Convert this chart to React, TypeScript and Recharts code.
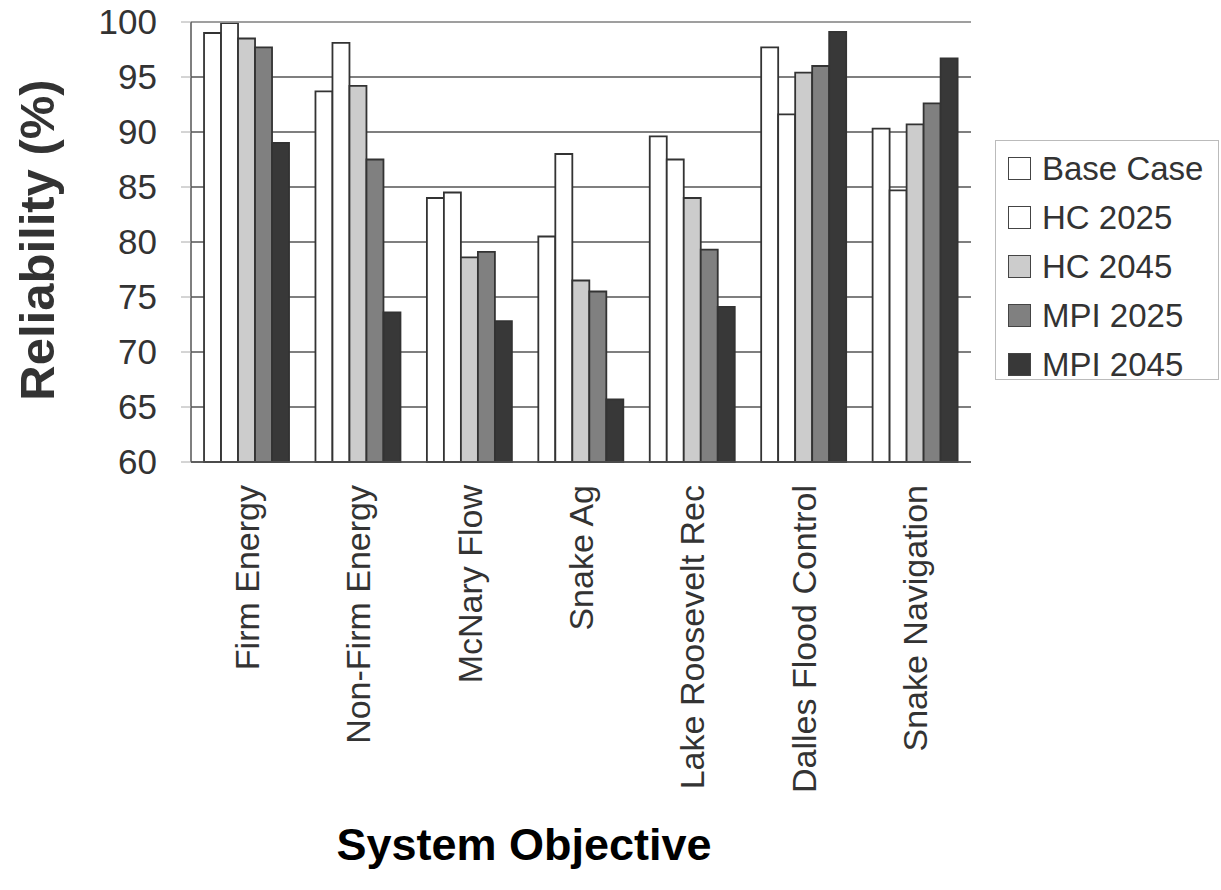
import React from 'react';
import { BarChart, Bar, XAxis, YAxis, CartesianGrid, Label, ReferenceLine } from 'recharts';

const categories = [
  'Firm Energy',
  'Non-Firm Energy',
  'McNary Flow',
  'Snake Ag',
  'Lake Roosevelt Rec',
  'Dalles Flood Control',
  'Snake Navigation',
];

const baseCase = [99.0, 93.7, 84.0, 80.5, 89.6, 97.7, 90.3];
const hc2025 = [99.9, 98.1, 84.5, 88.0, 87.5, 91.6, 84.7];
const hc2045 = [98.5, 94.2, 78.6, 76.5, 84.0, 95.4, 90.7];
const mpi2025 = [97.7, 87.5, 79.1, 75.5, 79.3, 96.0, 92.6];
const mpi2045 = [89.0, 73.6, 72.8, 65.7, 74.1, 99.1, 96.7];

const yTicks = [60, 65, 70, 75, 80, 85, 90, 95, 100];

const series = [
  { key: 'base', name: 'Base Case', fill: '#ffffff' },
  { key: 'hc25', name: 'HC 2025', fill: '#ffffff' },
  { key: 'hc45', name: 'HC 2045', fill: '#cccccc' },
  { key: 'mpi25', name: 'MPI 2025', fill: '#808080' },
  { key: 'mpi45', name: 'MPI 2045', fill: '#383838' },
];

const data = categories.map((name, i) => ({
  name,
  base: baseCase[i],
  hc25: hc2025[i],
  hc45: hc2045[i],
  mpi25: mpi2025[i],
  mpi45: mpi2045[i],
}));

const FONT = '"Liberation Sans", Arial, Helvetica, sans-serif';

const XTick = (props: any) => {
  const { x, y, payload } = props;
  return (
    <text
      x={x}
      y={y}
      transform={`rotate(-90, ${x}, ${y})`}
      textAnchor="end"
      dominantBaseline="central"
      fontSize={34}
      fontFamily={FONT}
      fill="#333"
    >
      {payload.value}
    </text>
  );
};

// plain html legend, placed to the right of the plot
const LegendBox = () => (
  <div
    style={{
      position: 'absolute',
      left: 995,
      top: 140,
      border: '1px solid #bbb',
      boxSizing: 'border-box',
      width: 224,
      height: 240,
      padding: '3px 0 0 12px',
      fontFamily: FONT,
      fontSize: 33,
      color: '#333',
      background: '#fff',
    }}
  >
    {series.map((s) => (
      <div key={s.key} style={{ display: 'flex', alignItems: 'center', height: 49 }}>
        <span
          style={{
            display: 'inline-block',
            width: 21,
            height: 21,
            border: '1.5px solid #444',
            background: s.fill,
            marginRight: 11,
            flexShrink: 0,
          }}
        />
        <span style={{ whiteSpace: 'nowrap' }}>{s.name}</span>
      </div>
    ))}
  </div>
);

export default function App() {
  return (
    <div style={{ position: 'absolute', left: 0, top: 0, width: 1221, height: 890, background: '#fff' }}>
      <BarChart
        width={1221}
        height={890}
        data={data}
        margin={{ top: 22, right: 250, bottom: 398, left: 121 }}
        barCategoryGap="11.7%"
        barGap={0}
      >
        <CartesianGrid horizontal vertical={false} stroke="#555" strokeWidth={1.5} />
        <ReferenceLine y={100} stroke="#aaa" strokeWidth={1.5} />
        <XAxis
          dataKey="name"
          interval={0}
          height={30}
          tick={<XTick />}
          tickLine={false}
          tickSize={0}
          tickMargin={23}
          axisLine={{ stroke: '#555', strokeWidth: 1.5 }}
        >
          <Label
            content={() => (
              <text x={524} y={860} textAnchor="middle" fontSize={45} fontWeight="bold" fontFamily={FONT} fill="#000">
                System Objective
              </text>
            )}
          />
        </XAxis>
        <YAxis
          width={70}
          domain={[60, 100]}
          ticks={yTicks}
          interval={0}
          tickSize={10}
          tickMargin={24}
          tickLine={{ stroke: '#aaa' }}
          axisLine={{ stroke: '#555', strokeWidth: 1.5 }}
          tick={{ fontSize: 35, fill: '#333', fontFamily: FONT }}
        >
          <Label
            content={() => (
              <text
                x={54}
                y={240}
                transform="rotate(-90, 54, 240)"
                textAnchor="middle"
                fontSize={49}
                fontWeight="bold"
                fontFamily={FONT}
                fill="#333"
              >
                Reliability (%)
              </text>
            )}
          />
        </YAxis>
        <YAxis
          yAxisId="right"
          orientation="right"
          width={0}
          domain={[60, 100]}
          tick={false}
          tickLine={false}
          axisLine={{ stroke: '#aaa', strokeWidth: 1.5 }}
        />
        {series.map((s) => (
          <Bar
            key={s.key}
            dataKey={s.key}
            name={s.name}
            fill={s.fill}
            stroke="#333"
            strokeWidth={1.8}
            isAnimationActive={false}
          />
        ))}
      </BarChart>
      <LegendBox />
    </div>
  );
}
